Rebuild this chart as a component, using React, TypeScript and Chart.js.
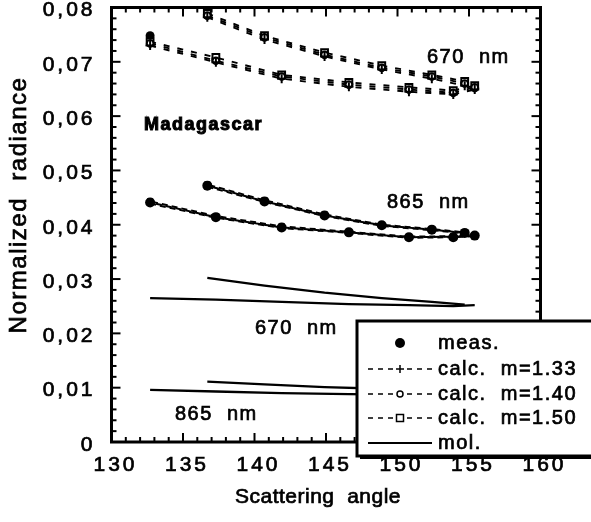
import React, { useEffect, useRef } from 'react';
import { Chart, registerables } from 'chart.js';

Chart.register(...registerables);

// ---- Data ----
const anglesA = [132.7, 137.3, 141.9, 146.6, 150.8, 153.9, 155.4];
const anglesB = [136.7, 140.7, 144.9, 148.9, 152.4, 154.7];

// 670 nm
const meas670A = [0.0748, 0.0705, 0.0674, 0.0659, 0.0650, 0.0644, 0.0652];
const calc133_670A = [0.0730, 0.0699, 0.0669, 0.0654, 0.0645, 0.0640, 0.0649];
const calc140_670A = [0.0734, 0.0702, 0.0673, 0.0658, 0.0649, 0.0643, 0.0653];
const calc150_670A = [0.0737, 0.0708, 0.0676, 0.0662, 0.0653, 0.0647, 0.0656];

const meas670B = [0.0786, 0.0746, 0.0714, 0.0690, 0.0674, 0.0661];
const calc133_670B = [0.0782, 0.0741, 0.0710, 0.0686, 0.0669, 0.0656];
const calc140_670B = [0.0785, 0.0745, 0.0713, 0.0689, 0.0673, 0.0660];
const calc150_670B = [0.0789, 0.0748, 0.0717, 0.0693, 0.0676, 0.0664];

// 865 nm
const meas865A = [0.0441, 0.0414, 0.0395, 0.0386, 0.0377, 0.0377, 0.0380];
const calc133_865A = [0.0439, 0.0413, 0.0394, 0.0385, 0.0376, 0.0377, 0.0379];
const calc140_865A = [0.0441, 0.0414, 0.0395, 0.0386, 0.0377, 0.0378, 0.0380];
const calc150_865A = [0.0443, 0.0416, 0.0397, 0.0387, 0.0378, 0.0379, 0.0381];

const meas865B = [0.0472, 0.0443, 0.0417, 0.0399, 0.0391, 0.0385];
const calc133_865B = [0.0470, 0.0442, 0.0416, 0.0398, 0.0390, 0.0384];
const calc140_865B = [0.0472, 0.0443, 0.0417, 0.0399, 0.0391, 0.0385];
const calc150_865B = [0.0474, 0.0445, 0.0419, 0.0400, 0.0392, 0.0386];

// molecular
const mol670A = [0.0265, 0.0262, 0.0258, 0.0254, 0.0252, 0.0250, 0.0252];
const mol670B = [0.0302, 0.0288, 0.0275, 0.0265, 0.0258, 0.0253];
const mol865A = [0.0096, 0.0093, 0.0090, 0.0088, 0.0087, 0.0086, 0.0086];
const mol865B = [0.0111, 0.0106, 0.0101, 0.0098, 0.0095, 0.0093];

// axes
const xMin = 130, xMax = 160, xStep = 5, xMinor = 1;
const yMin = 0, yMax = 0.08, yStep = 0.01, yMinor = 0.002;
const xTitle = 'Scattering  angle';
const yTitle = 'Normalized  radiance';

const legendLabels = ['meas.', 'calc.  m=1.33', 'calc.  m=1.40', 'calc.  m=1.50', 'mol.'];
const annotations = [
  { text: '670  nm', x: 427, y: 57, bold: false },
  { text: '865  nm', x: 387, y: 202, bold: false },
  { text: 'Madagascar', x: 144, y: 125, bold: true },
  { text: '670  nm', x: 255, y: 328, bold: false },
  { text: '865  nm', x: 175, y: 414, bold: false },
];

const FONT = '"Liberation Sans", Arial, Helvetica, sans-serif';

const pts = (xs: number[], ys: number[]) => xs.map((x, i) => ({ x, y: ys[i] }));

function measDs(xs: number[], ys: number[], r: number) {
  return {
    data: pts(xs, ys),
    showLine: false,
    pointStyle: 'circle',
    pointRadius: r,
    pointBackgroundColor: '#000',
    pointBorderColor: '#000',
    pointBorderWidth: 0,
  };
}

function calcDs(xs: number[], ys: number[], style: string, offset: number, hidden: boolean) {
  const r = style === 'rect' ? 4.8 : style === 'cross' ? 4.5 : 3.3;
  return {
    data: pts(xs, ys),
    showLine: true,
    borderColor: '#000',
    borderWidth: hidden ? 2 : 1.9,
    borderDash: hidden ? [6, 4] : [6, 8],
    borderDashOffset: offset,
    tension: 0,
    pointStyle: style,
    pointRadius: hidden ? 3 : r,
    pointBackgroundColor: '#fff',
    pointBorderColor: '#000',
    pointBorderWidth: 2,
  };
}

function molDs(xs: number[], ys: number[]) {
  return {
    data: pts(xs, ys),
    showLine: true,
    borderColor: '#000',
    borderWidth: 2.3,
    pointRadius: 0,
    tension: 0,
  };
}

function heavyText(ctx: CanvasRenderingContext2D, text: string, x: number, y: number, w = 0.7) {
  ctx.fillText(text, x, y);
  ctx.lineWidth = w;
  ctx.strokeStyle = '#000';
  ctx.setLineDash([]);
  ctx.strokeText(text, x, y);
}

const framePlugin = {
  id: 'framePlugin',
  beforeLayout(chart: any) {
    chart.ctx.letterSpacing = '3px';
  },
  beforeDraw(chart: any) {
    chart.ctx.letterSpacing = '3px';
  },
  afterDatasetsDraw(chart: any) {
    const ctx = chart.ctx as CanvasRenderingContext2D;
    const { left, right, top, bottom } = chart.chartArea;
    const xs = chart.scales.x;
    const ys = chart.scales.y;
    ctx.save();
    ctx.strokeStyle = '#000';
    ctx.lineWidth = 2;
    const line = (x1: number, y1: number, x2: number, y2: number) => {
      ctx.beginPath();
      ctx.moveTo(x1, y1);
      ctx.lineTo(x2, y2);
      ctx.stroke();
    };
    const nx = Math.round((xMax - xMin) / xMinor);
    for (let k = 0; k <= nx; k++) {
      const v = xMin + k * xMinor;
      const px = xs.getPixelForValue(v);
      const len = k % Math.round(xStep / xMinor) === 0 ? 9 : 5;
      line(px, bottom, px, bottom - len);
      line(px, top, px, top + len);
    }
    const ny = Math.round((yMax - yMin) / yMinor);
    for (let k = 0; k <= ny; k++) {
      const v = yMin + k * yMinor;
      const py = ys.getPixelForValue(v);
      const len = k % Math.round(yStep / yMinor) === 0 ? 9 : 5;
      line(left, py, left + len, py);
      line(right, py, right - len, py);
    }
    ctx.lineWidth = 3;
    ctx.strokeRect(left, top, right - left, bottom - top);
    ctx.restore();
  },
  afterDraw(chart: any) {
    const ctx = chart.ctx as CanvasRenderingContext2D;
    ctx.save();
    ctx.fillStyle = '#000';
    ctx.textBaseline = 'middle';
    // annotations
    for (const a of annotations) {
      ctx.font = (a.bold ? 'bold 18px ' : '20px ') + FONT;
      (ctx as any).letterSpacing = a.bold ? '1.5px' : '1.5px';
      ctx.textAlign = 'left';
      heavyText(ctx, a.text, a.x, a.y, a.bold ? 1 : 0.7);
    }
    // axis titles
    ctx.font = '21px ' + FONT;
    (ctx as any).letterSpacing = '0.5px';
    ctx.textAlign = 'center';
    heavyText(ctx, xTitle, 318, 497);
    ctx.save();
    ctx.font = '24px ' + FONT;
    (ctx as any).letterSpacing = '1.5px';
    ctx.translate(19, 205);
    ctx.rotate(-Math.PI / 2);
    heavyText(ctx, yTitle, 0, 0);
    ctx.restore();

    // legend box
    const bx = 357, by = 321, bw = 250, bh = 135;
    ctx.fillStyle = '#fff';
    ctx.fillRect(bx, by, bw, bh);
    ctx.strokeStyle = '#000';
    ctx.lineWidth = 3;
    ctx.strokeRect(bx, by, bw, bh);
    ctx.fillStyle = '#000';
    ctx.fillRect(bx + 3, by + bh, bw, 3);

    const rowsY = [343, 369, 394, 418, 443];
    const lx1 = 368, lx2 = 432, mx = 400, tx = 438;
    ctx.font = '20px ' + FONT;
    (ctx as any).letterSpacing = '1.5px';
    ctx.textAlign = 'left';
    legendLabels.forEach((lab, i) => {
      const y = rowsY[i];
      ctx.fillStyle = '#000';
      heavyText(ctx, lab, tx, y);
      ctx.strokeStyle = '#000';
      if (i === 0) {
        ctx.beginPath();
        ctx.arc(mx, y, 5, 0, Math.PI * 2);
        ctx.fill();
      } else if (i === 4) {
        ctx.lineWidth = 2;
        ctx.setLineDash([]);
        ctx.beginPath();
        ctx.moveTo(lx1, y);
        ctx.lineTo(lx2, y);
        ctx.stroke();
      } else {
        ctx.lineWidth = 1.5;
        ctx.setLineDash([5, 5]);
        ctx.beginPath();
        ctx.moveTo(lx1, y);
        ctx.lineTo(mx - 6, y);
        ctx.moveTo(mx + 7, y);
        ctx.lineTo(lx2 + 2, y);
        ctx.stroke();
        ctx.setLineDash([]);
        if (i === 1) {
          ctx.beginPath();
          ctx.moveTo(mx - 4, y);
          ctx.lineTo(mx + 4, y);
          ctx.moveTo(mx, y - 4);
          ctx.lineTo(mx, y + 4);
          ctx.stroke();
        } else if (i === 2) {
          ctx.beginPath();
          ctx.arc(mx, y, 3, 0, Math.PI * 2);
          ctx.stroke();
        } else {
          ctx.strokeRect(mx - 3.5, y - 3.5, 7, 7);
        }
      }
    });
    ctx.restore();
  },
};

export default function App() {
  const ref = useRef<HTMLCanvasElement>(null);
  useEffect(() => {
    const canvas = ref.current;
    if (!canvas) return;
    const datasets: any[] = [
      measDs(anglesA, meas865A, 5),
      measDs(anglesB, meas865B, 5),
      calcDs(anglesA, calc133_865A, 'cross', 0, true),
      calcDs(anglesA, calc140_865A, 'circle', 4, true),
      calcDs(anglesA, calc150_865A, 'rect', 8, true),
      calcDs(anglesB, calc133_865B, 'cross', 0, true),
      calcDs(anglesB, calc140_865B, 'circle', 4, true),
      calcDs(anglesB, calc150_865B, 'rect', 8, true),
      calcDs(anglesA, calc133_670A, 'cross', 0, false),
      calcDs(anglesA, calc140_670A, 'circle', 0, false),
      calcDs(anglesA, calc150_670A, 'rect', 0, false),
      calcDs(anglesB, calc133_670B, 'cross', 0, false),
      calcDs(anglesB, calc140_670B, 'circle', 0, false),
      calcDs(anglesB, calc150_670B, 'rect', 0, false),
      measDs(anglesA, meas670A, 4.5),
      measDs(anglesB, meas670B, 4.5),
      molDs(anglesA, mol670A),
      molDs(anglesB, mol670B),
      molDs(anglesA, mol865A),
      molDs(anglesB, mol865B),
    ];
    const chart = new Chart(canvas, {
      type: 'line',
      data: { datasets },
      options: {
        responsive: false,
        maintainAspectRatio: false,
        animation: false,
        events: [],
        layout: { padding: { left: 0, top: 7.5, right: 50.5, bottom: 0 } },
        plugins: { legend: { display: false }, tooltip: { enabled: false }, title: { display: false } },
        scales: {
          x: {
            type: 'linear',
            min: xMin,
            max: xMax,
            grid: { display: false, drawTicks: false },
            border: { display: false },
            ticks: {
              stepSize: xStep,
              color: '#000',
              padding: 11,
              labelOffset: 4,
              maxRotation: 0,
              textStrokeColor: '#000',
              textStrokeWidth: 0.7,
              font: { family: FONT, size: 21 },
            },
            afterFit: (s: any) => {
              s.height = 80;
              s.paddingLeft = 0;
              s.paddingRight = 0;
              s.paddingTop = 0;
              s.paddingBottom = 0;
            },
          },
          y: {
            type: 'linear',
            min: yMin,
            max: yMax,
            grid: { display: false, drawTicks: false },
            border: { display: false },
            ticks: {
              stepSize: yStep,
              color: '#000',
              padding: 16,
              labelOffset: 3,
              textStrokeColor: '#000',
              textStrokeWidth: 0.7,
              font: { family: FONT, size: 21 },
              callback: (v: any) => (Number(v) === 0 ? '0' : Number(v).toFixed(2).replace('.', ',')),
            },
            afterFit: (s: any) => {
              s.width = 111.5;
              s.paddingLeft = 0;
              s.paddingRight = 0;
              s.paddingTop = 0;
              s.paddingBottom = 0;
            },
          },
        },
      } as any,
      plugins: [framePlugin],
    });
    return () => chart.destroy();
  }, []);
  return (
    <canvas
      ref={ref}
      width={591}
      height={522}
      style={{ position: 'absolute', left: 0, top: 0, width: 591, height: 522 }}
    />
  );
}
